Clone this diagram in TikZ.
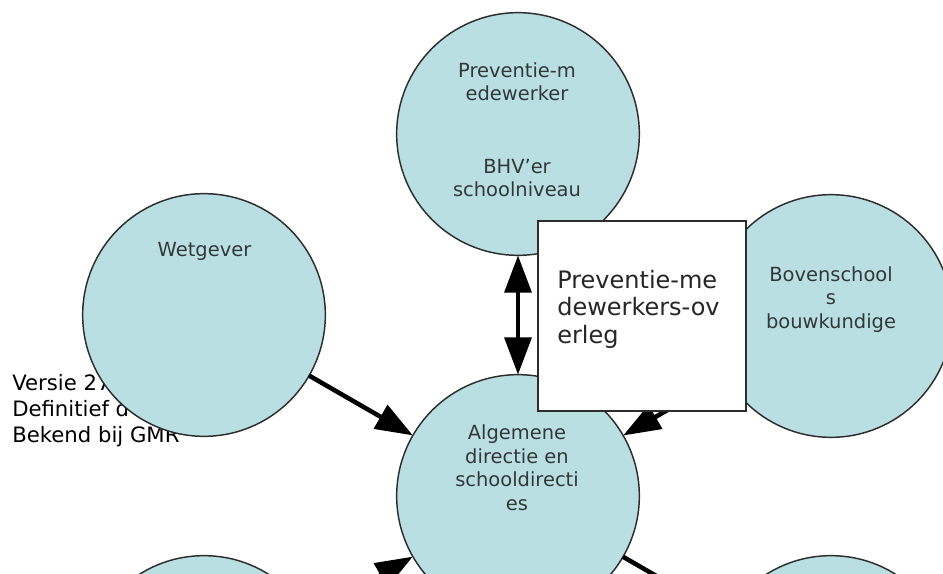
\documentclass[tikz,border=0pt]{standalone}
\usepackage{fontspec}
\setmainfont{DejaVu Sans}
\usetikzlibrary{arrows.meta}
\definecolor{cfill}{RGB}{185,223,227}
\definecolor{cline}{RGB}{45,45,45}
\definecolor{ctext}{RGB}{50,56,56}
\begin{document}
\begin{tikzpicture}[x=0.75pt,y=-0.75pt,
  bubble/.style={circle,draw=cline,line width=1.1pt,fill=cfill,minimum size=182pt,inner sep=0pt,outer sep=0pt},
  btext/.style={align=center,inner sep=0pt,text=ctext,font=\fontsize{14.6}{17.6}\selectfont,anchor=base},
  arr/.style={line width=3.4pt,-{Triangle[length=28pt,width=20pt]}},
  darr/.style={line width=3.4pt,{Triangle[length=28pt,width=20pt]}-{Triangle[length=28pt,width=20pt]}},
  notebox/.style={draw=cline,line width=1.1pt,fill=white,inner sep=0pt,outer sep=0pt,minimum width=156pt,minimum height=142.5pt,anchor=north west},
  boxtext/.style={align=left,inner sep=0pt,anchor=base west,text=black!85,font=\fontsize{18}{20.6}\selectfont},
  side/.style={align=left,inner sep=0pt,anchor=base west,font=\fontsize{15.9}{19.5}\selectfont}
]
\useasboundingbox (0,0) rectangle (943,574);
\clip (0,0) rectangle (943,574);

% side text (behind the circles); anchor base = last line
\node[side] (versie) at (12,442) {Versie 27\\Definitief d\\Bekend bij GMR};

% circles
\node[bubble] (top) at (518,134) {};
\node[bubble] (wet) at (204,315) {};
\node[bubble] (bov) at (831,316) {};
\node[bubble] (alg) at (518,496) {};
\node[bubble] (bl) at (204,677) {};
\node[bubble] (br) at (831,677) {};

% circle texts (anchor base = last line)
\node[btext] (toptext) at (517,197) {Preventie-m\\edewerker\\[37pt]BHV’er\\schoolniveau};
\node[btext] (wettext) at (204.5,257) {Wetgever};
\node[btext] (bovtext) at (831,328) {Bovenschool\\s\\bouwkundige};
\node[btext] (algtext) at (517,510) {Algemene\\directie en\\schooldirecti\\es};

% connectors
\draw[darr] (top) -- (alg);
\draw[arr] (wet) -- (alg);
\draw[arr] (bov) -- (alg);
\draw[arr] (bl) -- (alg);
\draw[arr] (alg) -- (br);

% overlay box
\node[notebox] (box) at (538,221) {};
\node[boxtext] (boxt) at (557,343) {Preventie-me\\dewerkers-ov\\erleg};
\end{tikzpicture}
\end{document}
